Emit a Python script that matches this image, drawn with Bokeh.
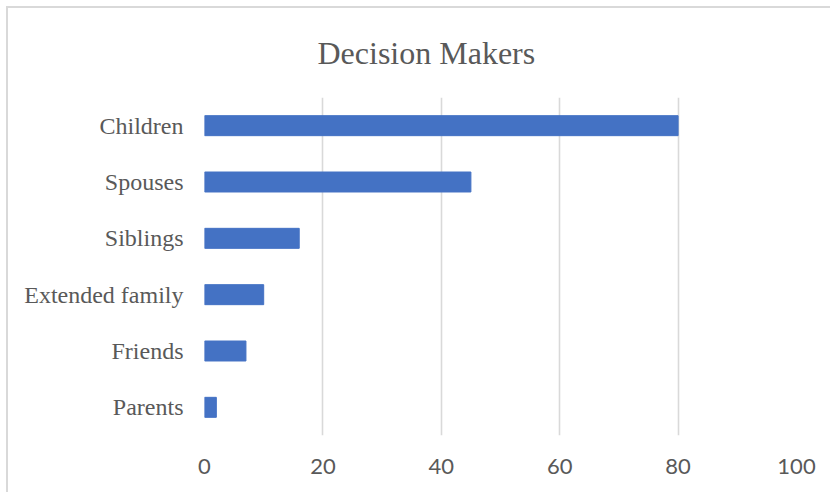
from bokeh.plotting import figure
from bokeh.models import FactorRange, Range1d, ColumnDataSource, FixedTicker
from bokeh.embed import file_html
from bokeh.resources import INLINE

categories = ["Children", "Spouses", "Siblings", "Extended family", "Friends", "Parents"]
values = [80, 45, 16, 10, 7, 2]
x_ticks = [0, 20, 40, 60, 80, 100]

source = ColumnDataSource(data=dict(cat=categories, val=values))

p = figure(
    width=824, height=486,
    y_range=FactorRange(factors=list(reversed(categories))),
    x_range=Range1d(0, 100),
    output_backend="svg", toolbar_location=None,
    min_border_left=196, min_border_right=36, min_border_top=89, min_border_bottom=59,
    title="Decision Makers",
    margin=(6, 0, 0, 6),
)
p.styles = {"border-left": "2px solid #D9D9D9", "border-top": "2px solid #D9D9D9"}

p.hbar(y="cat", right="val", left=0, height=0.355, color="#4472C4", source=source)

p.title.align = "left"
p.title.vertical_align = "top"
p.title.text_font = "Liberation Serif"
p.title.text_font_size = "32px"
p.title.text_font_style = "normal"
p.title.text_color = "#595959"
p.title.standoff = 49
p.title.offset = 113

p.outline_line_color = None
p.background_fill_color = "white"
p.border_fill_color = "white"

p.ygrid.grid_line_color = None
p.xgrid.grid_line_color = "#D9D9D9"
p.xgrid.grid_line_width = 1.6

p.xaxis.ticker = FixedTicker(ticks=x_ticks)
p.xaxis.axis_line_color = None
p.xaxis.major_tick_line_color = None
p.xaxis.minor_tick_line_color = None
p.xaxis.major_label_text_font = "Lato"
p.xaxis.major_label_text_font_size = "22px"
p.xaxis.major_label_text_color = "#595959"
p.xaxis.major_label_standoff = 17

p.yaxis.axis_line_color = None
p.yaxis.major_tick_line_color = None
p.yaxis.minor_tick_line_color = None
p.yaxis.major_label_text_font = "Liberation Serif"
p.yaxis.major_label_text_font_size = "24px"
p.yaxis.major_label_text_color = "#595959"
p.yaxis.major_label_standoff = 15

open("out.html", "w").write(file_html(p, INLINE))
